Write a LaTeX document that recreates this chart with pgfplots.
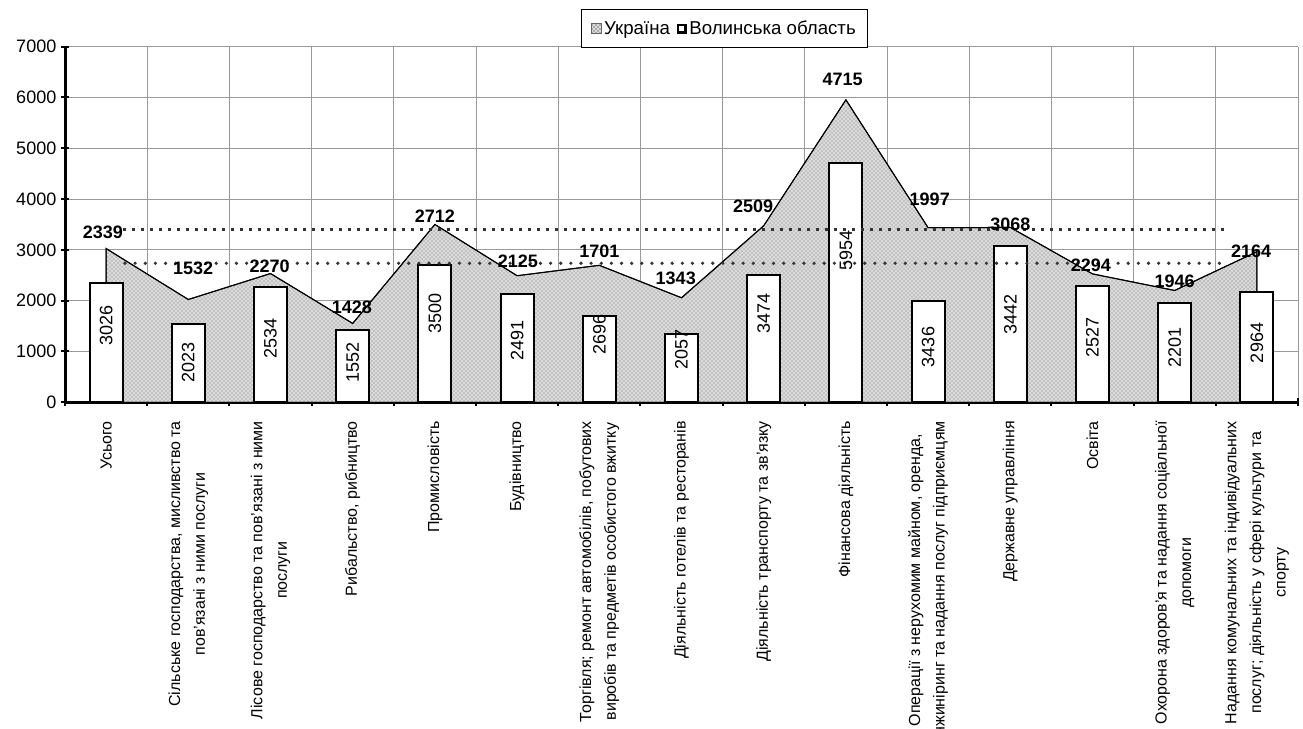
\documentclass[border=0pt]{standalone}
\usepackage{fontspec}
\setmainfont{Liberation Sans}
\usepackage{pgfplots}
\usepackage{pgfplotstable}
\pgfplotsset{compat=1.18}
\usetikzlibrary{patterns}
\pgfplotsset{layers/mylayers/.define layer set={axis background,axis grid,pre main,main,axis ticks,axis lines,axis tick labels,axis descriptions,axis foreground}{}}

\pgfplotstableread{
x ua vo
0 3026 2339
1 2023 1532
2 2534 2270
3 1552 1428
4 3500 2712
5 2491 2125
6 2696 1701
7 2057 1343
8 3474 2509
9 5954 4715
10 3436 1997
11 3442 3068
12 2527 2294
13 2201 1946
14 2964 2164
}\datatab

\pgfplotstableread{
x y lab
-0.04 3346 2339
1.06 2638 1532
1.99 2683 2270
2.99 1862 1428
4.00 3667 2712
5.01 2781 2125
6.00 2966 1701
6.93 2441 1343
7.87 3850 2509
8.96 6358 4715
10.02 3996 1997
11.00 3510 3068
11.98 2703 2294
13.00 2374 1946
13.93 2965 2164
}\volab

\pgfplotstableread{
x y lab
0 1505 3026
1 792 2023
2 1260 2534
3 785 1552
4 1757 3500
5 1207 2491
6 1328 2696
7 1030 2057
8 1757 3474
9 2980 5954
10 1088 3436
11 1719 3442
12 1267 2527
13 1078 2201
14 1167 2964
}\ualab

\begin{document}
\begin{tikzpicture}
\begin{axis}[
  set layers=mylayers,
  width=924.75pt, height=266.7pt, scale only axis,
  xmin=-0.5, xmax=14.5, ymin=0, ymax=7000,
  axis x line*=bottom, axis y line*=left,
  axis line style={-, line width=2.25pt, black},
  xtick={-0.5,0.5,...,14.5},
  x tick label as interval,
  xticklabels={{Усього},
    {Сільське господарства,  мисливство та\\пов'язані з ними послуги},
    {Лісове господарство та пов'язані з ними\\послуги},
    {Рибальство,  рибництво},
    {Промисловість},
    {Будівництво},
    {Торгівля;  ремонт автомобілів,  побутових\\виробів та предметів особистого вжитку},
    {Діяльність готелів та ресторанів},
    {Діяльність транспорту та зв'язку},
    {Фінансова діяльність},
    {Операції  з нерухомим майном,  оренда,\\інжиніринг та надання послуг підприємцям},
    {Державне управління},
    {Освіта},
    {Охорона здоров'я та надання соціальної\\допомоги},
    {Надання комунальних та індивідуальних\\послуг; діяльність у сфері культури та\\спорту}},
  xticklabel style={rotate=90, anchor=east, align=center, font=\fontsize{12}{18.5}\selectfont, inner sep=0pt},
  xticklabel shift=11pt,
  ytick={0,1000,...,7000},
  yticklabel style={font=\fontsize{13.5}{16}\selectfont},
  /pgf/number format/assume math mode=true,
  /pgf/number format/1000 sep={},
  xmajorgrids, ymajorgrids,
  grid style={black!40, line width=0.75pt},
  tick style={black, line width=1.5pt},
  tick align=center,
  major tick length=6pt,
  legend style={at={(0.5349,0.995)}, anchor=south, legend columns=2, draw=black, line width=0.75pt,
    font=\fontsize{14}{16}\selectfont, inner xsep=7pt, inner ysep=6.5pt,
    /tikz/every even column/.append style={column sep=3pt}},
]
\coordinate (sw) at (rel axis cs:0,0);
\coordinate (ne) at (rel axis cs:1,1);

\addplot[fill=black!14, draw=black, line width=0.75pt,
  postaction={pattern=crosshatch dots, pattern color=black!55},
  legend image code/.code={\draw[fill=black!14, draw=black!60, line width=0.6pt, postaction={pattern=crosshatch dots, pattern color=black!60}] (0pt,-3.75pt) rectangle (7.5pt,3.75pt);}]
  table[x=x, y=ua] {\datatab} \closedcycle;
\addlegendentry{Україна}

\addplot[ybar, bar width=0.4, fill=white, draw=black, line width=1.5pt,
  legend image code/.code={\draw[fill=white, draw=black, line width=1.9pt] (0.9pt,-2.85pt) rectangle (6.6pt,2.85pt);}]
  table[x=x, y=vo] {\datatab};
\addlegendentry{Волинська область}

\addplot[forget plot, color=black!80, line width=2.25pt, dash pattern=on 2.25pt off 4.5pt] coordinates {(0.2,3406) (13.65,3406)};
\addplot[forget plot, color=black!80, line width=2.7pt, line cap=round, dash pattern=on 0pt off 7.6pt] coordinates {(0.23,2736) (13.59,2736)};

\addplot[forget plot, draw=none, mark=none, nodes near coords, point meta=explicit symbolic,
  every node near coord/.append style={anchor=center, inner sep=0pt, font=\fontsize{13.5}{16}\selectfont\bfseries}]
  table[x=x, y=y, meta=lab] {\volab};

\addplot[forget plot, draw=none, mark=none, nodes near coords, point meta=explicit symbolic,
  every node near coord/.append style={anchor=center, inner sep=0pt, rotate=90, font=\fontsize{13.5}{16}\selectfont}]
  table[x=x, y=y, meta=lab] {\ualab};
\end{axis}
\pgfresetboundingbox
\path[use as bounding box] ([shift={(-48.75pt,-245pt)}]sw) rectangle ([shift={(3.75pt,35pt)}]ne);
\end{tikzpicture}
\end{document}
